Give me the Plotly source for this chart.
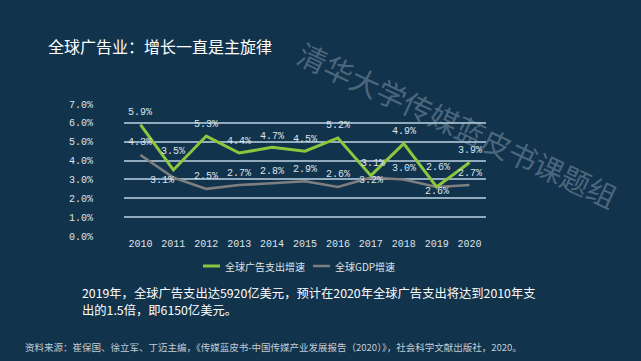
import plotly.graph_objects as go

years = ["2010", "2011", "2012", "2013", "2014", "2015", "2016", "2017", "2018", "2019", "2020"]
ad_growth = [5.9, 3.5, 5.3, 4.4, 4.7, 4.5, 5.2, 3.2, 4.9, 2.6, 3.9]
gdp_growth = [4.3, 3.1, 2.5, 2.7, 2.8, 2.9, 2.6, 3.1, 3.0, 2.6, 2.7]

# label offsets (pixels) relative to each point
ad_label_dy = [12, 19, 12, 12, 11, 12, 12, -5, 12, -5, 12]
gdp_label_dy = [12, -3, 12, 12, 12, 12, 12, 14, 11, 19, 12]
gdp_label_dx = [0, -11, 0, 0, 0, 0, 0, 2, 0, 1, 0]

series_names = ["全球广告支出增速", "全球GDP增速"]
title_text = "全球广告业：增长一直是主旋律"
body_line1 = "2019年，全球广告支出达5920亿美元，预计在2020年全球广告支出将达到2010年支"
body_line2 = "出的1.5倍，即6150亿美元。"
source_text = "资料来源：崔保国、徐立军、丁迈主编，《传媒蓝皮书-中国传媒产业发展报告（2020）》，社会科学文献出版社，2020。"
watermark = "清华大学传媒蓝皮书课题组"

W, H = 641, 361
L, R, T, B = 124, 486, 104, 236

def px(x):
    return (x - L) / (R - L)

def py(y):
    return (B - y) / (B - T)

BG = "#12334c"
GREEN = "#8cc63f"
GRAY = "#7f7f7f"
LBL = "#dde4ea"
MONO = "Liberation Mono, DejaVu Sans Mono, monospace"
CJK = "Noto Sans CJK SC, sans-serif"

fig = go.Figure()
fig.add_trace(go.Scatter(
    x=years, y=gdp_growth, mode="lines", name=series_names[1],
    line=dict(color=GRAY, width=2.5), showlegend=False, hoverinfo="skip",
))
fig.add_trace(go.Scatter(
    x=years, y=ad_growth, mode="lines", name=series_names[0],
    line=dict(color=GREEN, width=3), showlegend=False, hoverinfo="skip",
))

annotations = []
for i, (v, dy, dx) in enumerate(zip(gdp_growth, gdp_label_dy, gdp_label_dx)):
    annotations.append(dict(text=f"{v:.1f}%", x=i, y=v, xref="x", yref="y",
                            xshift=dx, yshift=dy, showarrow=False,
                            font=dict(family=MONO, size=10, color=LBL)))
for i, (v, dy) in enumerate(zip(ad_growth, ad_label_dy)):
    annotations.append(dict(text=f"{v:.1f}%", x=i, y=v, xref="x", yref="y",
                            yshift=dy, showarrow=False,
                            font=dict(family=MONO, size=10, color=LBL)))

texts = [
    dict(text=title_text, x=px(46), y=py(46), xanchor="left", yanchor="middle",
         font=dict(family=CJK, size=16, color="#ffffff")),
    dict(text=body_line1, x=px(80), y=py(293), xanchor="left", yanchor="middle",
         font=dict(family=CJK, size=12.3, color="#ffffff")),
    dict(text=body_line2, x=px(80), y=py(310), xanchor="left", yanchor="middle",
         font=dict(family=CJK, size=12.3, color="#ffffff")),
    dict(text=source_text, x=px(23), y=py(347), xanchor="left", yanchor="middle",
         font=dict(family=CJK, size=9.5, color="#c3ccd4")),
    dict(text=series_names[0], x=px(223), y=py(266), xanchor="left", yanchor="middle",
         font=dict(family=CJK, size=10, color=LBL)),
    dict(text=series_names[1], x=px(333), y=py(266), xanchor="left", yanchor="middle",
         font=dict(family=CJK, size=10, color=LBL)),
    dict(text=watermark, x=px(458), y=py(124), xanchor="center", yanchor="middle",
         textangle=25, font=dict(family=CJK, size=29, color="rgba(170,190,205,0.38)")),
]
for a in texts:
    a.update(xref="paper", yref="paper", showarrow=False)
annotations += texts

shapes = [
    dict(type="line", xref="paper", yref="paper", x0=px(203), x1=px(220), y0=py(266), y1=py(266),
         line=dict(color=GREEN, width=3)),
    dict(type="line", xref="paper", yref="paper", x0=px(313), x1=px(330), y0=py(266), y1=py(266),
         line=dict(color=GRAY, width=2.5)),
]

fig.update_layout(
    width=W, height=H,
    margin=dict(l=L, r=W - R, t=T, b=H - B, pad=0),
    paper_bgcolor=BG, plot_bgcolor=BG,
    showlegend=False,
    annotations=annotations, shapes=shapes,
    xaxis=dict(type="category", range=[-0.5, 10.5], showgrid=False, zeroline=False,
               showline=False, ticks="",
               tickfont=dict(family=MONO, size=10, color=LBL)),
    yaxis=dict(range=[0, 7], dtick=1, tickformat=".1f", ticksuffix="%",
               showgrid=True, gridcolor="#93acbd", gridwidth=2, zeroline=False,
               showline=False, ticks="", ticklabelstandoff=30,
               tickfont=dict(family=MONO, size=10, color=LBL)),
)

fig.write_html("out.html", config={"displayModeBar": False},
               post_script="document.body.style.margin='0';document.body.style.background='#12334c';")
